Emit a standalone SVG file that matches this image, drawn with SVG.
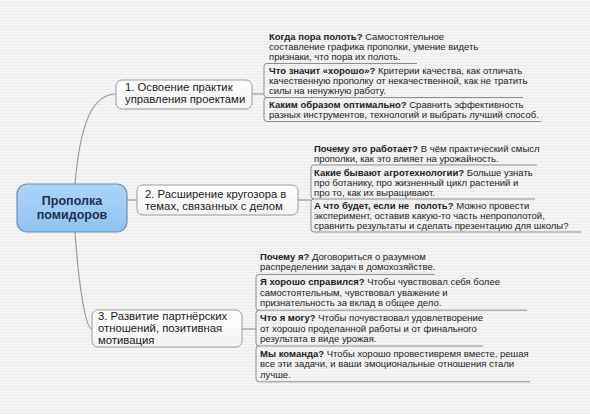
<svg xmlns="http://www.w3.org/2000/svg" width="590" height="414" viewBox="0 0 590 414">
<defs>
<pattern id="bgp" width="4" height="3" patternUnits="userSpaceOnUse">
<rect width="4" height="3" fill="#f4f4f4"/>
<rect y="2" width="4" height="1" fill="#ececec"/>
</pattern>
<linearGradient id="cg" x1="0" y1="0" x2="0" y2="1">
<stop offset="0" stop-color="#acd4f8"/>
<stop offset="1" stop-color="#8fc2f2"/>
</linearGradient>
<linearGradient id="ng" x1="0" y1="0" x2="0" y2="1">
<stop offset="0" stop-color="#ffffff"/>
<stop offset="1" stop-color="#f3f3f3"/>
</linearGradient>
</defs>
<style>
.conn{fill:none;stroke:#9a9a9a;stroke-width:1.2}
.ln{fill:none;stroke:#8e8e8e;stroke-width:1}
.box{fill:url(#ng);stroke:#9c9c9c;stroke-width:1}
.cbox{fill:url(#cg);stroke:#6f90b2;stroke-width:1.2}
.ct{font-family:"Liberation Sans",Arial,sans-serif;font-size:12.5px;font-weight:bold;fill:#1f2f4c;text-anchor:middle}
.nt{font-family:"Liberation Sans",Arial,sans-serif;font-size:11.3px;fill:#1a1a1a}
.lt{font-family:"Liberation Sans",Arial,sans-serif;font-size:9.5px;fill:#222}
.b{font-weight:bold}
</style>
<rect width="590" height="414" fill="url(#bgp)"/>

<g id="connectors">
<path class="conn" d="M75 184 C80 125 92 94 116 94"/>
<path class="conn" d="M127 200 L137 200"/>
<path class="conn" d="M75 232 C79 290 86 329 92 329"/>
<path class="conn" d="M252 94 L264 94"/>
<path class="conn" d="M298 200 L311 200"/>
<path class="conn" d="M242 329 L256 329"/>
</g>

<g id="center">
<rect class="cbox" x="17" y="184" width="110" height="48" rx="10"/>
<text class="ct" x="72" y="205">Прополка</text>
<text class="ct" x="72" y="218.5">помидоров</text>
</g>

<g id="node1">
<rect class="box" x="116" y="80" width="136" height="29" rx="6"/>
<text class="nt" x="125" y="91">1. Освоение практик</text>
<text class="nt" x="125" y="103">управления проектами</text>
</g>
<g id="node2">
<rect class="box" x="137" y="185" width="161" height="30" rx="6"/>
<text class="nt" x="145" y="198">2. Расширение кругозора в</text>
<text class="nt" x="145" y="209.5">темах, связанных с делом</text>
</g>
<g id="node3">
<rect class="box" x="92" y="310" width="150" height="37" rx="6"/>
<text class="nt" x="98" y="319.5">3. Развитие партнёрских</text>
<text class="nt" x="98" y="331.5">отношений, позитивная</text>
<text class="nt" x="98" y="343.5">мотивация</text>
</g>

<g id="leaf1a">
<path class="ln" d="M267 63.5 L417 63.5"/>
<text class="lt" x="269" y="40"><tspan class="b">Когда пора полоть?</tspan> Самостоятельное</text>
<text class="lt" x="269" y="50">составление графика прополки, умение видеть</text>
<text class="lt" x="269" y="60">признаки, что пора их полоть.</text>
</g>
<g id="leaf1b">
<path class="ln" d="M267 63.5 Q264 63.5 264 66.5 L264 94.5 Q264 97.5 267 97.5 L523 97.5"/>
<text class="lt" x="269" y="74"><tspan class="b">Что значит «хорошо»?</tspan> Критерии качества, как отличать</text>
<text class="lt" x="269" y="84">качественную прополку от некачественной, как не тратить</text>
<text class="lt" x="269" y="94">силы на ненужную работу.</text>
</g>
<g id="leaf1c">
<path class="ln" d="M267 97.5 Q264 97.5 264 100.5 L264 118.5 Q264 121.5 267 121.5 L541 121.5"/>
<text class="lt" x="269" y="108"><tspan class="b">Каким образом оптимально?</tspan> Сравнить эффективность</text>
<text class="lt" x="269" y="118">разных инструментов, технологий и выбрать лучший способ.</text>
</g>

<g id="leaf2a">
<path class="ln" d="M314 165 L537 165"/>
<text class="lt" x="314" y="151.5"><tspan class="b">Почему это работает?</tspan> В чём практический смысл</text>
<text class="lt" x="314" y="161.5">прополки, как это влияет на урожайность.</text>
</g>
<g id="leaf2b">
<path class="ln" d="M314 165 Q311 165 311 168 L311 196 Q311 199 314 199 L535 199"/>
<text class="lt" x="314" y="175.5"><tspan class="b">Какие бывают агротехнологии?</tspan> Больше узнать</text>
<text class="lt" x="314" y="185.5">про ботанику, про жизненный цикл растений и</text>
<text class="lt" x="314" y="195.5">про то, как их выращивают.</text>
</g>
<g id="leaf2c">
<path class="ln" d="M314 199 Q311 199 311 202 L311 229 Q311 232 314 232 L581 232"/>
<text class="lt" x="314" y="208.5" xml:space="preserve"><tspan class="b">А что будет, если не  полоть?</tspan> Можно провести</text>
<text class="lt" x="314" y="218.5">эксперимент, оставив какую-то часть непрополотой,</text>
<text class="lt" x="314" y="228.5">сравнить результаты и сделать презентацию для школы?</text>
</g>

<g id="leaf3a">
<path class="ln" d="M259 274.4 L435 274.4"/>
<text class="lt" x="260" y="260"><tspan class="b">Почему я?</tspan> Договориться о разумном</text>
<text class="lt" x="260" y="270.4">распределении задач в домохозяйстве.</text>
</g>
<g id="leaf3b">
<path class="ln" d="M259 274.4 Q256 274.4 256 277.4 L256 307.2 Q256 310.2 259 310.2 L527 310.2"/>
<text class="lt" x="260" y="285.4"><tspan class="b">Я хорошо справился?</tspan> Чтобы чувствовал себя более</text>
<text class="lt" x="260" y="295.8">самостоятельным, чувствовал уважение и</text>
<text class="lt" x="260" y="306.2">признательность за вклад в общее дело.</text>
</g>
<g id="leaf3c">
<path class="ln" d="M259 310.2 Q256 310.2 256 313.2 L256 343 Q256 346 259 346 L483 346"/>
<text class="lt" x="260" y="321.2"><tspan class="b">Что я могу?</tspan> Чтобы почувствовал удовлетворение</text>
<text class="lt" x="260" y="331.6">от хорошо проделанной работы и от финального</text>
<text class="lt" x="260" y="342">результата в виде урожая.</text>
</g>
<g id="leaf3d">
<path class="ln" d="M259 346 Q256 346 256 349 L256 378.8 Q256 381.8 259 381.8 L530 381.8"/>
<text class="lt" x="260" y="357"><tspan class="b">Мы команда?</tspan> Чтобы хорошо провестивремя вместе, решая</text>
<text class="lt" x="260" y="367.4">все эти задачи, и ваши эмоциональные отношения стали</text>
<text class="lt" x="260" y="377.8">лучше.</text>
</g>
</svg>
